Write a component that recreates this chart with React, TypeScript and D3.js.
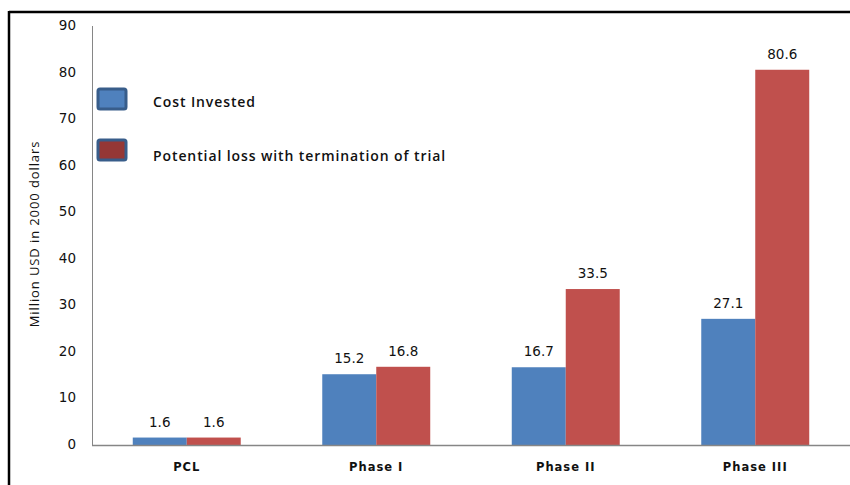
import React from "react";
import * as d3 from "d3";

const categories = ["PCL", "Phase I", "Phase II", "Phase III"];
const seriesNames = ["Cost Invested", "Potential loss with termination of trial"];
const costInvested = [1.6, 15.2, 16.7, 27.1];
const potentialLoss = [1.6, 16.8, 33.5, 80.6];
const yTicks = [0, 10, 20, 30, 40, 50, 60, 70, 80, 90];

const WIDTH = 850;
const HEIGHT = 485;
const BAR_COLORS = ["#4F81BD", "#C0504D"];
const LEGEND_FILL = ["#4F81BD", "#953735"];

export default function App() {
  const x0 = d3
    .scaleBand<string>()
    .domain(categories)
    .range([92, 850])
    .paddingInner(0)
    .paddingOuter(0);

  const x1 = d3
    .scaleBand<string>()
    .domain(seriesNames)
    .range([0, x0.bandwidth()])
    .paddingInner(0)
    .paddingOuter(0.755);

  const y = d3.scaleLinear().domain([0, 90]).range([445, 26]);

  const series = [costInvested, potentialLoss];

  return (
    <svg
      width={WIDTH}
      height={HEIGHT}
      style={{ position: "fixed", left: 0, top: 0, background: "#fff" }}
    >
      {/* frame */}
      <line x1={9} y1={12} x2={WIDTH} y2={12} stroke="#000" strokeWidth={2.5} />
      <line x1={9} y1={11} x2={9} y2={HEIGHT} stroke="#000" strokeWidth={2.5} />

      {/* y axis */}
      <line x1={92.5} y1={y(90)} x2={92.5} y2={y(0)} stroke="#868686" strokeWidth={1} />
      {yTicks.map((t) => (
        <text
          key={t}
          x={76}
          y={y(t)}
          textAnchor="end"
          dominantBaseline="middle"
          fontFamily="DejaVu Sans"
          fontSize={13.5}
          fill="#111"
        >
          {t}
        </text>
      ))}
      <text
        transform="translate(39, 234) rotate(-90)"
        textAnchor="middle"
        fontFamily="Open Sans"
        fontSize={13}
        letterSpacing={0.9}
        fill="#111"
      >
        Million  USD in 2000 dollars
      </text>

      {/* bars */}
      {categories.map((c, i) => (
        <g key={c} transform={`translate(${x0(c)},0)`}>
          {series.map((vals, s) => {
            const bx = x1(seriesNames[s])!;
            const top = y(vals[i]);
            return (
              <g key={s}>
                <rect
                  x={bx}
                  y={top}
                  width={x1.bandwidth()}
                  height={y(0) - top}
                  fill={BAR_COLORS[s]}
                />
                <text
                  x={bx + x1.bandwidth() / 2}
                  y={top - 11}
                  textAnchor="middle"
                  fontFamily="DejaVu Sans"
                  fontSize={13.5}
                  fill="#111"
                >
                  {vals[i]}
                </text>
              </g>
            );
          })}
          <text
            x={x0.bandwidth() / 2}
            y={471}
            textAnchor="middle"
            fontFamily="DejaVu Sans"
            fontWeight="bold"
            fontSize={11.5}
            letterSpacing={1}
            fill="#111"
          >
            {c}
          </text>
        </g>
      ))}

      {/* x axis */}
      <line x1={92} y1={445.5} x2={WIDTH} y2={445.5} stroke="#868686" strokeWidth={1.5} />

      {/* legend */}
      {seriesNames.map((name, i) => (
        <g key={name} transform={`translate(0, ${i * 51})`}>
          <rect
            x={98}
            y={89}
            width={28}
            height={20}
            rx={2}
            fill={LEGEND_FILL[i]}
            stroke="#385D8A"
            strokeWidth={3}
          />
          <text
            x={153}
            y={103 + i * 3}
            dominantBaseline="middle"
            fontFamily="Open Sans"
            fontWeight={600}
            fontSize={14}
            letterSpacing={0.9}
            fill="#111"
          >
            {name}
          </text>
        </g>
      ))}
    </svg>
  );
}
